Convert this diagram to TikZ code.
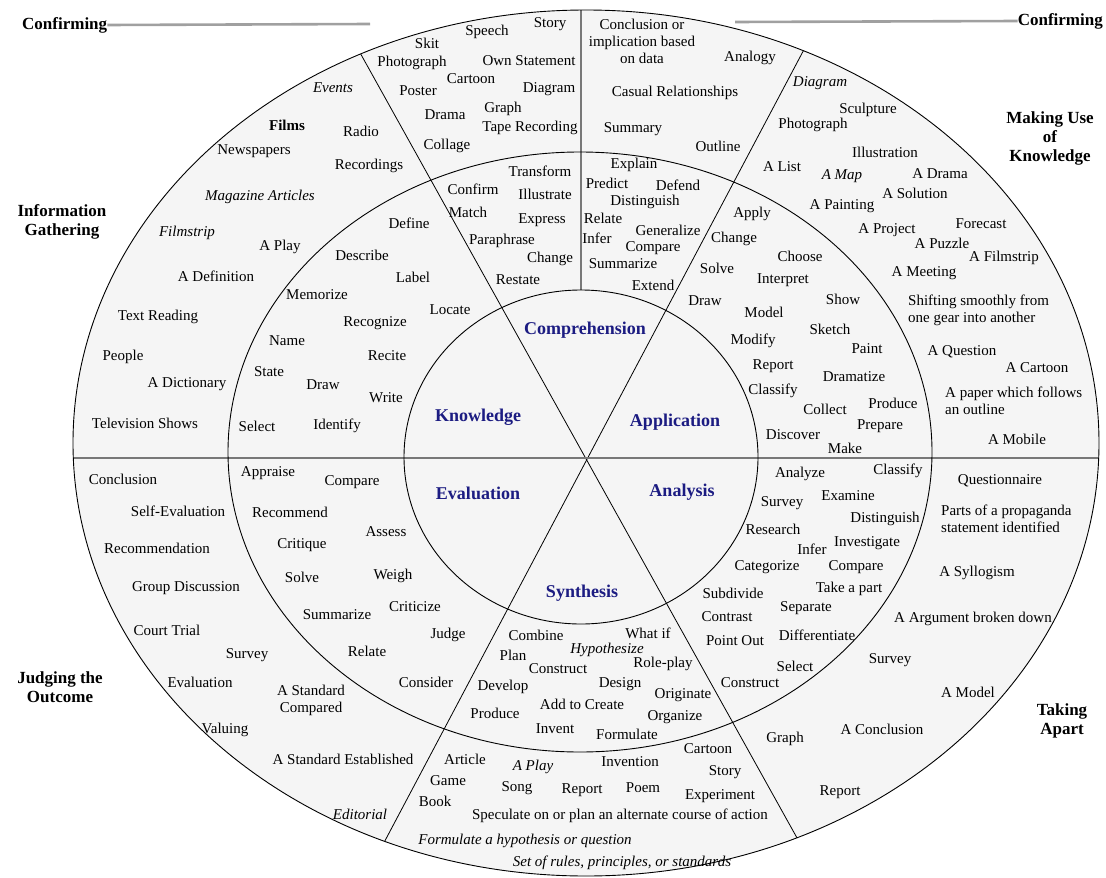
\documentclass[tikz,border=0pt]{standalone}
\usepackage{fontspec}
\setmainfont{Liberation Serif}
\definecolor{wheel}{RGB}{245,245,245}
\definecolor{levelblue}{RGB}{28,28,130}
\definecolor{rule}{RGB}{120,120,120}

\begin{document}
\begin{tikzpicture}[x=1pt,y=-1pt,
                    word/.style={font=\fontsize{15}{17}\selectfont,inner sep=0pt,align=center},
                    level/.style={font=\fontsize{18}{19}\selectfont\bfseries,text=levelblue,inner sep=0pt},
                    zone/.style={font=\fontsize{17}{19}\selectfont\bfseries,align=center,inner sep=0pt},
                    ring/.style={draw=black,line width=0.9pt},
                    spoke/.style={draw=black,line width=0.8pt},
                    divider/.style={draw=rule,line width=1.8pt},
                   ]
  \useasboundingbox (0,0) rectangle (1106,878);
  \fill[white] (0,0) rectangle (1106,878);

  % the wheel
  \fill[wheel] (586,443) ellipse [x radius=513, y radius=433];
  \begin{scope}
    \clip (586,443) ellipse [x radius=513, y radius=433];
    \draw[spoke] (329,-3) -- (831,899);
    \draw[spoke] (835,-9) -- (352,903);
    \draw[divider] (0,458) -- (1106,458);
    \draw[rule,line width=1.3pt] (581,0) -- (581,290);
  \end{scope}
  \draw[ring] (586,443) ellipse [x radius=513, y radius=433];
  \draw[ring] (580,452) ellipse [x radius=352, y radius=300];
  \draw[ring] (581,457) ellipse [x radius=177, y radius=167];

  % outside labels
  \node[zone,anchor=west] (confirm-l) at (22,25) {Confirming};
  \node[zone,anchor=east] (confirm-r) at (1103,21) {Confirming};
  \coordinate (confirm-l-end) at (370,24);
  \coordinate (confirm-r-end) at (735,22);
  \draw[divider,line width=2.6pt,draw=rule!70] (confirm-l.east) -- (confirm-l-end);
  \draw[divider,line width=2.6pt,draw=rule!70] (confirm-r-end) -- (confirm-r.west);
  \node[zone] (gathering) at (62,222) {Information\\Gathering};
  \node[zone] (making-use) at (1050,138) {Making Use\\of\\Knowledge};
  \node[zone] (judging) at (60,687) {Judging the\\Outcome};
  \node[zone] (taking-apart) at (1062,721) {Taking\\Apart};

  % levels
  \node[level] (comprehension) at (585,330) {Comprehension};
  \node[level] (knowledge) at (478,417) {Knowledge};
  \node[level] (application) at (675,422) {Application};
  \node[level] (evaluation) at (478,493) {Evaluation};
  \node[level] (analysis) at (682,492) {Analysis};
  \node[level] (synthesis) at (582,593) {Synthesis};

  % knowledge
  \foreach \x/\y/\t [count=\i] in {409/223/Define, 362/255/Describe, 413/277/Label, 317/295/Memorize,
      450/310/Locate, 375/323/Recognize, 287/341/Name, 387/356/Recite, 269/372/State, 323/385/Draw,
      386/398/Write, 257/426/Select, 337/426/Identify}
    \node[word] (know-\i) at (\x,\y) {\t};
  \foreach \x/\y/\t [count=\i] in {333/88/{\itshape Events}, 287/125/{\bfseries Films}, 361/131/Radio,
      254/151/Newspapers, 369/166/Recordings, 260/197/{\itshape Magazine Articles}, 187/233/{\itshape Filmstrip},
      280/247/A Play, 216/276/A Definition, 158/317/Text Reading, 123/357/People, 187/384/A Dictionary,
      145/423/Television Shows}
    \node[word] (gather-\i) at (\x,\y) {\t};

  % comprehension
  \foreach \x/\y/\t [count=\i] in {540/171/Transform, 634/165/Explain, 607/183/Predict, 678/185/Defend,
      473/189/Confirm, 545/194/Illustrate, 645/202/Distinguish, 468/212/Match, 542/220/Express,
      603/218/Relate, 668/230/Generalize, 502/241/Paraphrase, 597/238/Infer, 653/248/Compare,
      550/259/Change, 623/264/Summarize, 518/280/Restate, 653/285/Extend}
    \node[word] (comp-\i) at (\x,\y) {\t};
  \foreach \x/\y/\t [count=\i] in {550/24/Story, 487/32/Speech, 427/43/Skit, 412/63/Photograph,
      529/61/Own Statement, 471/79/Cartoon, 418/91/Poster, 549/89/Diagram, 445/115/Drama, 503/109/Graph,
      530/128/Tape Recording, 447/146/Collage, 750/58/Analogy, 675/93/Casual Relationships,
      633/129/Summary, 718/146/Outline}
    \node[word] (confirm-\i) at (\x,\y) {\t};
  \node[word] (conclusion-data) at (642,41) {Conclusion or\\implication based\\on data};

  % application
  \foreach \x/\y/\t [count=\i] in {752/214/Apply, 734/239/Change, 800/256/Choose, 717/268/Solve,
      783/280/Interpret, 705/301/Draw, 843/299/Show, 764/312/Model, 830/329/Sketch, 753/341/Modify,
      867/349/Paint, 773/366/Report, 854/377/Dramatize, 773/391/Classify, 893/403/Produce,
      825/409/Collect, 880/426/Prepare, 793/435/Discover, 845/448/Make}
    \node[word] (appl-\i) at (\x,\y) {\t};
  \foreach \x/\y/\t [count=\i] in {820/83/{\itshape Diagram}, 868/110/Sculpture, 813/125/Photograph,
      885/152/Illustration, 782/167/A List, 842/176/{\itshape A Map}, 940/174/A Drama, 915/193/A Solution,
      842/206/A Painting, 981/224/Forecast, 887/230/A Project, 942/243/A Puzzle, 1004/258/A Filmstrip,
      924/273/A Meeting, 962/352/A Question, 1037/368/A Cartoon, 1017/439/A Mobile}
    \node[word] (use-\i) at (\x,\y) {\t};
  \node[word,align=left,anchor=west] (shifting) at (908,310) {Shifting smoothly from\\one gear into another};
  \node[word,align=left,anchor=west] (paper) at (945,401) {A paper which follows\\an outline};

  % analysis
  \foreach \x/\y/\t [count=\i] in {800/474/Analyze, 898/471/Classify, 782/503/Survey, 848/496/Examine,
      885/519/Distinguish, 773/529/Research, 867/543/Investigate, 812/549/Infer, 767/567/Categorize,
      856/567/Compare, 849/589/Take a part, 733/593/Subdivide, 806/608/Separate, 727/617/Contrast,
      817/635/Differentiate, 735/641/Point Out, 795/666/Select, 750/683/Construct}
    \node[word] (anal-\i) at (\x,\y) {\t};
  \foreach \x/\y/\t [count=\i] in {1000/481/Questionnaire, 977/573/A Syllogism, 973/619/A Argument broken down,
      890/660/Survey, 968/692/A Model, 785/739/Graph, 882/729/A Conclusion, 840/792/Report}
    \node[word] (apart-\i) at (\x,\y) {\t};
  \node[word,align=left,anchor=west] (propaganda) at (941,519) {Parts of a propaganda\\statement identified};

  % synthesis
  \foreach \x/\y/\t [count=\i] in {536/635/Combine, 648/633/What if, 607/650/{\itshape Hypothesize},
      513/655/Plan, 663/664/Role-play, 558/669/Construct, 620/684/Design, 503/687/Develop,
      683/695/Originate, 582/704/Add to Create, 495/713/Produce, 675/717/Organize, 555/729/Invent,
      627/734/Formulate}
    \node[word] (synth-\i) at (\x,\y) {\t};
  \foreach \x/\y/\t [count=\i] in {465/759/Article, 533/767/{\itshape A Play}, 630/762/Invention,
      708/749/Cartoon, 448/781/Game, 517/788/Song, 582/790/Report, 643/788/Poem, 725/772/Story,
      720/796/Experiment, 435/801/Book, 620/816/Speculate on or plan an alternate course of action,
      525/841/{\itshape Formulate a hypothesis or question},
      622/863/{\itshape Set of rules, principles, or standards}}
    \node[word] (create-\i) at (\x,\y) {\t};

  % evaluation
  \foreach \x/\y/\t [count=\i] in {268/473/Appraise, 352/482/Compare, 290/512/Recommend, 386/532/Assess,
      302/545/Critique, 302/577/Solve, 393/576/Weigh, 415/607/Criticize, 337/615/Summarize,
      448/635/Judge, 367/651/Relate, 426/682/Consider}
    \node[word] (eval-\i) at (\x,\y) {\t};
  \foreach \x/\y/\t [count=\i] in {123/479/Conclusion, 178/511/Self-Evaluation, 157/548/Recommendation,
      186/588/Group Discussion, 167/630/Court Trial, 247/655/Survey, 200/682/Evaluation,
      225/730/Valuing, 343/759/A Standard Established, 360/814/{\itshape Editorial}}
    \node[word] (judge-\i) at (\x,\y) {\t};
  \node[word] (standard-compared) at (311,700) {A Standard\\Compared};
\end{tikzpicture}
\end{document}
